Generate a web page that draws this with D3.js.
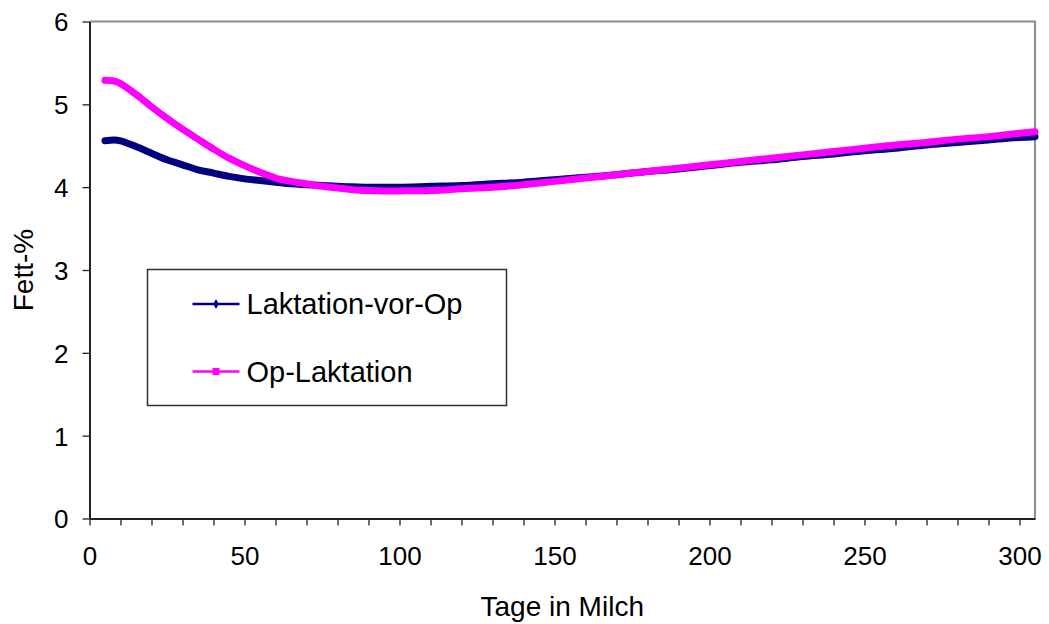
<!DOCTYPE html>
<html>
<head>
<meta charset="utf-8">
<script src="https://cdn.jsdelivr.net/npm/d3@7"></script>
<style>
  body { margin: 0; background: #fff; }
  svg { display: block; font-family: "Liberation Sans", Arial, sans-serif; }
</style>
</head>
<body>
<div id="wrapper"></div>
<script>
const days = [5, 8, 10, 15, 20, 25, 30, 35, 40, 45, 50, 55, 60, 65, 70, 75, 80, 85, 90, 95,
  100, 110, 120, 130, 140, 150, 160, 170, 180, 190, 200, 210, 220, 230, 240, 250,
  260, 270, 280, 290, 300, 305]

const vorOp = [4.56, 4.57, 4.56, 4.49, 4.41, 4.33, 4.27, 4.21, 4.17, 4.13, 4.10, 4.08, 4.06, 4.04,
  4.03, 4.02, 4.01, 4.005, 4.0, 4.0, 4.0, 4.01, 4.02, 4.04, 4.06, 4.09, 4.12, 4.15, 4.19, 4.22,
  4.26, 4.30, 4.33, 4.37, 4.40, 4.44, 4.47, 4.51, 4.54, 4.57, 4.60, 4.61]

const opLakt = [5.29, 5.28, 5.25, 5.12, 4.97, 4.83, 4.70, 4.58, 4.46, 4.35, 4.26, 4.18, 4.11, 4.07,
  4.04, 4.01, 3.99, 3.97, 3.96, 3.955, 3.955, 3.96, 3.98, 4.00, 4.03, 4.07, 4.11, 4.15, 4.19, 4.23,
  4.27, 4.31, 4.35, 4.39, 4.43, 4.47, 4.51, 4.54, 4.58, 4.61, 4.65, 4.67]

const seriesNames = ["Laktation-vor-Op", "Op-Laktation"]
const seriesColors = ["#000080", "#ff00ff"]
const xTicks = d3.range(0, 301, 10)
const xLabels = [0, 50, 100, 150, 200, 250, 300]
const yTicks = [0, 1, 2, 3, 4, 5, 6]

function drawChart() {

  // dimensions
  const dimensions = {
    width: 1049,
    height: 624,
    margin: { top: 21.5, right: 14, bottom: 105.5, left: 89.5 },
  }
  dimensions.boundedWidth = dimensions.width - dimensions.margin.left - dimensions.margin.right
  dimensions.boundedHeight = dimensions.height - dimensions.margin.top - dimensions.margin.bottom

  const wrapper = d3.select("#wrapper")
    .append("svg")
    .attr("width", dimensions.width)
    .attr("height", dimensions.height)

  const bounds = wrapper.append("g")
    .attr("transform", `translate(${dimensions.margin.left}, ${dimensions.margin.top})`)

  // scales
  const xScale = d3.scaleLinear()
    .domain([0, 305])
    .range([0, dimensions.boundedWidth])

  const yScale = d3.scaleLinear()
    .domain([0, 6])
    .range([dimensions.boundedHeight, 0])

  // plot frame (top + right grey)
  bounds.append("path")
    .attr("d", `M0,0H${dimensions.boundedWidth}V${dimensions.boundedHeight}`)
    .attr("fill", "none")
    .attr("stroke", "#8c8c8c")
    .attr("stroke-width", 2)

  // axes
  const xAxisGen = d3.axisBottom(xScale)
    .tickValues(xTicks)
    .tickSize(7)
    .tickSizeOuter(0)
    .tickFormat(d => xLabels.includes(d) ? d : "")
  const yAxisGen = d3.axisLeft(yScale)
    .tickValues(yTicks)
    .tickSize(7)
    .tickSizeOuter(0)
    .tickPadding(14)
    .tickFormat(d3.format("d"))

  const xAxis = bounds.append("g")
    .attr("transform", `translate(0, ${dimensions.boundedHeight})`)
    .call(xAxisGen)
  const yAxis = bounds.append("g").call(yAxisGen)

  ;[xAxis, yAxis].forEach(ax => {
    ax.select(".domain").attr("stroke", "#222").attr("stroke-width", 2)
    ax.selectAll(".tick line").attr("stroke", "#222").attr("stroke-width", 1.3)
    ax.selectAll(".tick text").attr("fill", "#000").style("font-size", "26px")
      .style("font-family", "'Liberation Sans', Arial, sans-serif")
  })
  xAxis.selectAll(".tick text").attr("dy", "0").attr("y", 46)
  yAxis.selectAll(".tick text").attr("dy", "0.36em")

  // lines
  const lineGen = d3.line()
    .x((d, i) => xScale(days[i]))
    .y(d => yScale(d))
    .curve(d3.curveCatmullRom)

  const seriesData = [vorOp, opLakt]
  seriesData.forEach((vals, s) => {
    bounds.append("path")
      .datum(vals)
      .attr("d", lineGen)
      .attr("fill", "none")
      .attr("stroke", seriesColors[s])
      .attr("stroke-width", 7)
      .attr("stroke-linecap", "round")
  })

  // axis titles
  wrapper.append("text")
    .attr("x", dimensions.margin.left + dimensions.boundedWidth / 2)
    .attr("y", 616)
    .attr("text-anchor", "middle")
    .style("font-size", "28px")
    .text("Tage in Milch")

  wrapper.append("text")
    .attr("transform", `translate(33, ${dimensions.margin.top + dimensions.boundedHeight / 2}) rotate(-90)`)
    .attr("text-anchor", "middle")
    .style("font-size", "28px")
    .text("Fett-%")

  // legend
  const legend = wrapper.append("g")
    .attr("transform", "translate(147.5, 269.5)")
  legend.append("rect")
    .attr("width", 359)
    .attr("height", 136)
    .attr("fill", "#fff")
    .attr("stroke", "#333")
    .attr("stroke-width", 1.5)

  const rows = legend.selectAll(".row")
    .data(seriesNames)
    .enter().append("g")
    .attr("transform", (d, i) => `translate(0, ${i === 0 ? 34.5 : 102})`)

  rows.append("line")
    .attr("x1", 45).attr("x2", 92)
    .attr("stroke", (d, i) => seriesColors[i])
    .attr("stroke-width", 2.5)
  rows.each(function (d, i) {
    const g = d3.select(this)
    if (i === 0) {
      g.append("path").attr("d", d3.symbol(d3.symbolDiamond, 28)())
        .attr("transform", "translate(68.5, 0)").attr("fill", seriesColors[i])
    } else {
      g.append("rect").attr("x", 65).attr("y", -3.5).attr("width", 7).attr("height", 7)
        .attr("fill", seriesColors[i])
    }
  })
  rows.append("text")
    .attr("x", 99)
    .attr("dy", "0.36em")
    .style("font-size", "29px")
    .text(d => d)
}
drawChart()
</script>
</body>
</html>
